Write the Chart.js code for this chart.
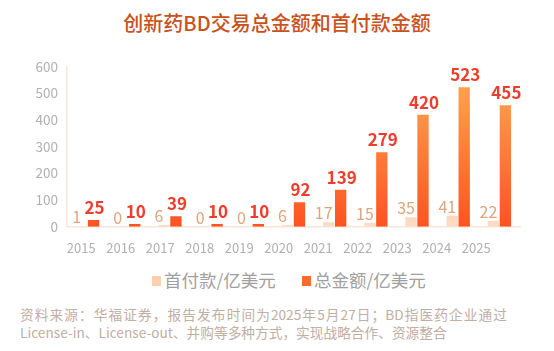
<!DOCTYPE html>
<html><head><meta charset="utf-8">
<script src="https://cdn.jsdelivr.net/npm/chart.js@4/dist/chart.umd.min.js"></script>
<style>
html,body{margin:0;padding:0;background:#fff;width:554px;height:351px;overflow:hidden;font-family:"Noto Sans CJK SC","Noto Sans",sans-serif;}
#title{position:absolute;left:0;top:9px;width:554px;text-align:center;font-size:20px;font-weight:500;color:#c8521c;line-height:28px;}
#title span{position:relative;display:inline-block;padding:0 4px;}
#title span:before{content:"";position:absolute;left:-2px;right:-2px;top:15px;height:13px;background:linear-gradient(90deg,rgba(253,226,210,0.2),#fde3d3 15%,#fde3d3 85%,rgba(253,226,210,0.2));z-index:-1;}
#wrap{position:absolute;left:0;top:0;width:554px;height:262px;}
#legend{position:absolute;left:0;top:268px;width:554px;height:24px;}
.li{position:absolute;top:0;height:24px;font-size:17.5px;line-height:24px;color:#a0a0a0;white-space:nowrap;}
.li i{position:absolute;left:0;top:8px;width:9px;height:10px;}
.li b{font-weight:400;position:absolute;left:12px;top:0;}
#note{position:absolute;left:20px;top:305px;width:487px;font-family:"Noto Sans CJK SC",sans-serif;font-size:13.7px;line-height:18px;color:#c2aea2;}
#note .l1{text-align:justify;text-align-last:justify;text-justify:inter-character;white-space:nowrap;}
#note .l2{text-align:left;white-space:nowrap;}
</style></head>
<body>
<div id="title"><span>创新药BD交易总金额和首付款金额</span></div>
<div id="wrap"><canvas id="c" width="554" height="262"></canvas></div>
<div id="legend"></div>
<div id="note"><div class="l1">资料来源：华福证券，报告发布时间为2025年5月27日；BD指医药企业通过</div><div class="l2">License-in、License-out、并购等多种方式，实现战略合作、资源整合</div></div>
<script>
const years = ['2015','2016','2017','2018','2019','2020','2021','2022','2023','2024','2025'];
const upfront = [1,0,6,0,0,6,17,15,35,41,22];
const total = [25,10,39,10,10,92,139,279,420,523,455];
const yTicks = [0,100,200,300,400,500,600];
const seriesNames = ['首付款/亿美元','总金额/亿美元'];
const swatch = ['#fdcfae','#ff6a2c'];

// HTML legend
const lg = document.getElementById('legend');
[152, 302].forEach((x,i)=>{
  const d = document.createElement('div'); d.className='li'; d.style.left = x+'px';
  const sq = document.createElement('i'); sq.style.background = swatch[i];
  const t = document.createElement('b'); t.textContent = seriesNames[i];
  d.appendChild(sq); d.appendChild(t); lg.appendChild(d);
});

function grad(ctx, top, bottom, c1, c2){
  const g = ctx.createLinearGradient(0, top, 0, bottom);
  g.addColorStop(0, c1); g.addColorStop(1, c2); return g;
}

const labelPlugin = {
  id:'valLabels',
  afterDatasetsDraw(chart){
    const ctx = chart.ctx;
    ctx.save();
    ctx.textAlign='center'; ctx.textBaseline='alphabetic';
    const m0 = chart.getDatasetMeta(0), m1 = chart.getDatasetMeta(1);
    ctx.font = '400 16px "Noto Sans CJK SC"';
    ctx.fillStyle = '#dea47c';
    m0.data.forEach((b,i)=>{ ctx.fillText(String(upfront[i]), b.x-5, b.y-3); });
    ctx.font = '700 17px "Noto Sans CJK SC"';
    ctx.fillStyle = '#ef3d2b';
    m1.data.forEach((b,i)=>{ ctx.fillText(String(total[i]), b.x+1, b.y-6); });
    ctx.restore();
  }
};

new Chart(document.getElementById('c'), {
  type:'bar',
  data:{
    labels: years,
    datasets:[
      {label:seriesNames[0], data:upfront, xAxisID:'x', yAxisID:'y',
       backgroundColor:(c)=>{const a=c.chart.chartArea; if(!a) return swatch[0]; return grad(c.chart.ctx,a.bottom-40,a.bottom,'#fcc6a0','#fdddc8');},
       categoryPercentage:0.58, barPercentage:0.95},
      {label:seriesNames[1], data:total, xAxisID:'x', yAxisID:'y',
       backgroundColor:(c)=>{const a=c.chart.chartArea; if(!a) return swatch[1]; return grad(c.chart.ctx,a.top+20,a.bottom,'#ffa24c','#ff5222');},
       categoryPercentage:0.58, barPercentage:0.95}
    ]
  },
  options:{
    responsive:false, animation:false,
    layout:{padding:{left:0,right:34,top:66.7,bottom:0}},
    plugins:{ title:{display:false}, tooltip:{enabled:false}, legend:{display:false} },
    scales:{
      x:{type:'category', display:false, offset:true},
      xl:{type:'linear', position:'bottom', min:-0.36, max:11.11, offset:false,
        afterBuildTicks:(s)=>{ s.ticks = years.map((_,i)=>({value:i})); },
        afterFit:(s)=>{ s.height = 35.3; },
        ticks:{autoSkip:false, maxRotation:0, padding:14, color:'#b0b0b0', font:{family:'"Noto Sans CJK SC"', size:13},
          callback:(v)=>years[v] ?? ''},
        grid:{display:false, drawTicks:false, offset:false},
        border:{display:true, color:'#fde6d8', width:1.5}
      },
      y:{min:0, max:600, afterBuildTicks:(s)=>{ s.ticks = yTicks.map(v=>({value:v})); },
        afterFit:(s)=>{ s.width = 67; },
        ticks:{padding:9, color:'#b0b0b0', font:{family:'"Noto Sans CJK SC"', size:13.5}},
        grid:{display:false, drawTicks:false},
        border:{display:true, color:'#fde6d8', width:1.5}
      }
    }
  },
  plugins:[labelPlugin]
});
</script>
</body></html>
